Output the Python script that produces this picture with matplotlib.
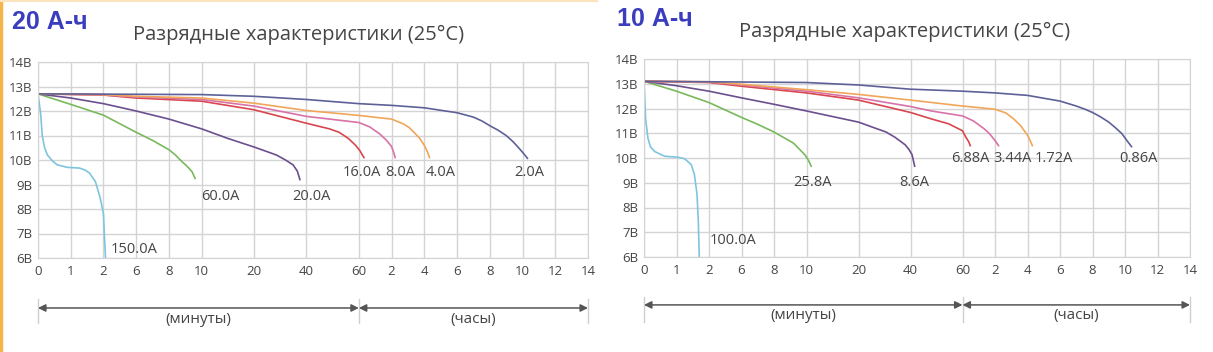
import numpy as np
import matplotlib
matplotlib.use("Agg")
import matplotlib.pyplot as plt
from matplotlib.lines import Line2D

plt.rcParams["font.family"] = ["Open Sans", "DejaVu Sans"]

# x axis: minutes up to 60, then hours (stored here in minutes)
TICK_MIN = [0, 1, 2, 6, 8, 10, 20, 40, 60, 120, 240, 360, 480, 600, 720, 840]
TICK_POS = [0, 1, 2, 3, 4, 5, 6.6, 8.2, 9.8, 10.8, 11.8, 12.8, 13.8, 14.8, 15.8, 16.8]
TICK_LABELS = ["0", "1", "2", "6", "8", "10", "20", "40", "60",
               "2", "4", "6", "8", "10", "12", "14"]
Y_TICKS = [6, 7, 8, 9, 10, 11, 12, 13, 14]
Y_LABELS = [f"{v}В" for v in Y_TICKS]

COLORS = {
    "cyan": "#7fc4df", "green": "#78b95c", "purple": "#6b4f8e",
    "red": "#d8464e", "pink": "#d872a8", "orange": "#f1a659", "slate": "#5d6198",
}

# 20 А-ч panel: (time in minutes, volts)
A20_150_T = [0, 0.03, 0.08, 0.13, 0.2, 0.29, 0.45, 0.59, 0.9, 1.27, 1.45, 1.57, 1.75, 1.84, 1.9, 2.0, 2.1, 2.25]
A20_150_V = [12.7, 12.4, 11.9, 11.0, 10.5, 10.2, 9.95, 9.8, 9.7, 9.67, 9.58, 9.47, 9.13, 8.73, 8.45, 7.8, 7.0, 6.0]
A20_60_T = [0, 1, 2, 6, 7, 8, 8.4, 8.8, 9.1, 9.4, 9.6]
A20_60_V = [12.7, 12.27, 11.83, 11.13, 10.8, 10.42, 10.2, 9.93, 9.75, 9.53, 9.25]
A20_20_T = [0, 1, 2, 6, 8, 10, 15, 20, 25, 28.6, 32, 34.9, 36.5, 37.5]
A20_20_V = [12.7, 12.53, 12.3, 12.0, 11.67, 11.27, 10.88, 10.53, 10.34, 10.2, 10.0, 9.8, 9.55, 9.2]
A20_16_T = [0, 2, 6, 10, 20, 40, 48.8, 52.5, 56, 58.75, 62, 66, 69.5]
A20_16_V = [12.7, 12.65, 12.53, 12.4, 12.05, 11.5, 11.27, 11.13, 10.88, 10.6, 10.38, 10.22, 10.1]
A20_8_T = [0, 2, 6, 10, 20, 40, 60, 80, 98, 110, 120, 128, 133]
A20_8_V = [12.7, 12.66, 12.57, 12.47, 12.2, 11.78, 11.53, 11.35, 11.07, 10.82, 10.55, 10.3, 10.1]
A20_4_T = [0, 2, 6, 10, 20, 40, 60, 120, 164, 185, 202, 222, 240, 252, 259]
A20_4_V = [12.7, 12.67, 12.6, 12.53, 12.32, 12.02, 11.82, 11.67, 11.47, 11.32, 11.13, 10.9, 10.6, 10.32, 10.1]
A20_2_T = [0, 10, 20, 40, 60, 120, 240, 360, 420, 450, 480, 510, 540, 565, 588, 605, 618]
A20_2_V = [12.7, 12.67, 12.6, 12.47, 12.3, 12.23, 12.13, 11.93, 11.75, 11.6, 11.4, 11.22, 11.0, 10.75, 10.47, 10.25, 10.07]

# 10 А-ч panel
A10_100_T = [0, 0.02, 0.05, 0.12, 0.2, 0.33, 0.64, 1.05, 1.25, 1.45, 1.55, 1.63, 1.67, 1.7]
A10_100_V = [13.1, 12.5, 11.58, 10.8, 10.45, 10.26, 10.07, 10.03, 9.97, 9.74, 9.34, 8.55, 7.5, 6.0]
A10_258_T = [0, 1, 2, 6, 7, 8, 9.2, 9.9, 10.4, 10.9]
A10_258_V = [13.1, 12.7, 12.24, 11.64, 11.36, 11.05, 10.6, 10.13, 9.9, 9.67]
A10_86_T = [0, 1, 2, 6, 8, 10, 20, 25, 30.6, 34, 38, 39.5, 40.6, 41.6]
A10_86_V = [13.1, 12.92, 12.7, 12.43, 12.17, 11.9, 11.45, 11.26, 11.05, 10.84, 10.53, 10.33, 10.13, 9.67]
A10_688_T = [0, 2, 6, 10, 20, 40, 48, 54.7, 60, 65.7, 71.4, 74.3]
A10_688_V = [13.1, 13.05, 12.9, 12.63, 12.34, 11.84, 11.58, 11.38, 11.1, 10.86, 10.66, 10.5]
A10_344_T = [0, 2, 6, 10, 20, 40, 48, 60, 80, 100, 110, 117, 125, 133]
A10_344_V = [13.1, 13.07, 12.95, 12.7, 12.43, 12.08, 11.9, 11.7, 11.5, 11.18, 10.98, 10.79, 10.63, 10.5]
A10_172_T = [0, 2, 6, 10, 20, 40, 60, 120, 160, 189, 215, 240, 250, 258]
A10_172_V = [13.1, 13.08, 12.98, 12.76, 12.57, 12.34, 12.1, 11.97, 11.82, 11.58, 11.3, 10.92, 10.7, 10.5]
A10_086_T = [0, 10, 20, 40, 60, 120, 240, 360, 420, 450, 480, 510, 540, 565, 588, 606, 624]
A10_086_V = [13.1, 13.05, 12.95, 12.78, 12.7, 12.63, 12.53, 12.3, 12.1, 11.98, 11.84, 11.66, 11.45, 11.22, 10.99, 10.72, 10.46]

PANEL_20 = [
    (A20_150_T, A20_150_V, "cyan", "150.0A", 5.75, 6.33),
    (A20_60_T, A20_60_V, "green", "60.0A", 13.5, 8.53),
    (A20_20_T, A20_20_V, "purple", "20.0A", 41.9, 8.53),
    (A20_16_T, A20_16_V, "red", "16.0A", 66, 9.5),
    (A20_8_T, A20_8_V, "pink", "8.0A", 150, 9.5),
    (A20_4_T, A20_4_V, "orange", "4.0A", 300, 9.5),
    (A20_2_T, A20_2_V, "slate", "2.0A", 624, 9.5),
]
PANEL_10 = [
    (A10_100_T, A10_100_V, "cyan", "100.0A", 4.9, 6.65),
    (A10_258_T, A10_258_V, "green", "25.8A", 11.1, 9.0),
    (A10_86_T, A10_86_V, "purple", "8.6A", 41.4, 9.0),
    (A10_688_T, A10_688_V, "red", "6.88A", 75, 10.0),
    (A10_344_T, A10_344_V, "pink", "3.44A", 186, 10.0),
    (A10_172_T, A10_172_V, "orange", "1.72A", 338, 10.0),
    (A10_086_T, A10_086_V, "slate", "0.86A", 648, 10.0),
]

TEXT_COLOR = "#454545"
GRID_COLOR = "#d4d4d4"


def fwd(x):
    return np.interp(x, TICK_MIN, TICK_POS)


def inv(p):
    return np.interp(p, TICK_POS, TICK_MIN)


def draw_panel(fig, rect, curves, badge, badge_xy, title_xy, arrow_y, tick_y, label_y):
    ax = fig.add_axes(rect)
    ax.set_xscale("function", functions=(fwd, inv))
    ax.set_xlim(0, 840)
    ax.set_ylim(6, 14)
    ax.set_xticks(TICK_MIN, TICK_LABELS)
    ax.set_yticks(Y_TICKS, Y_LABELS)
    ax.grid(True, color=GRID_COLOR, lw=1)
    ax.set_axisbelow(True)
    for sp in ax.spines.values():
        sp.set_color(GRID_COLOR)
    ax.tick_params(length=0, labelsize=9.5, colors=TEXT_COLOR)
    ax.tick_params(axis="x", pad=5)
    ax.tick_params(axis="y", pad=4)

    for t, v, col, lab, lx, ly in curves:
        ax.plot(t, v, color=COLORS[col], lw=1.2, solid_joinstyle="round")
        ax.text(lx, ly, lab, ha="center", va="center", fontsize=10.5, color=TEXT_COLOR)

    # minutes / hours arrows under the axis
    tr = ax.get_xaxis_transform()
    for x in (0, 60, 840):
        ax.plot([x, x], tick_y, transform=tr, color="#cfcfcf", lw=1, clip_on=False)
    for x0, x1, text in ((0, 60, "(минуты)"), (60, 840, "(часы)")):
        ax.annotate("", xy=(x1, arrow_y), xytext=(x0, arrow_y), xycoords=tr,
                    textcoords=tr, annotation_clip=False,
                    arrowprops=dict(arrowstyle="<|-|>", color="#555555", lw=1.1,
                                    shrinkA=0, shrinkB=0, mutation_scale=11))
        xm = inv((fwd(x0) + fwd(x1)) / 2)
        ax.text(xm, label_y, text, transform=tr, ha="center", va="center",
                fontsize=11, color=TEXT_COLOR)

    fig.text(badge_xy[0], badge_xy[1], badge, fontsize=18, fontweight="bold",
             color="#3a3dbd", family=["Liberation Sans", "DejaVu Sans"],
             ha="left", va="center")
    fig.text(title_xy[0], title_xy[1], "Разрядные характеристики (25°C)",
             fontsize=14.5, color=TEXT_COLOR, ha="center", va="center")
    return ax


fig = plt.figure(figsize=(12.13, 3.52), dpi=100)
fig.patch.set_facecolor("white")

draw_panel(fig, [38 / 1213, 1 - 258 / 352, 550 / 1213, 196 / 352], PANEL_20,
           "20 А-ч", (12 / 1213, 1 - 22 / 352), (299 / 1213, 1 - 35 / 352),
           -0.255, [-0.21, -0.33], -0.316)
draw_panel(fig, [644 / 1213, 1 - 257 / 352, 546 / 1213, 198 / 352], PANEL_10,
           "10 А-ч", (617 / 1213, 1 - 19 / 352), (905 / 1213, 1 - 32 / 352),
           -0.242, [-0.20, -0.33], -0.293)

# thin orange frame edge of the left picture
fig.add_artist(Line2D([0.001, 0.001], [0, 1], transform=fig.transFigure,
                      color="#f5b54a", lw=2.5))
fig.add_artist(Line2D([0, 597 / 1213], [0.998, 0.998], transform=fig.transFigure,
                      color="#fbe3bd", lw=1.5))

fig.savefig("out.png", dpi=100)
